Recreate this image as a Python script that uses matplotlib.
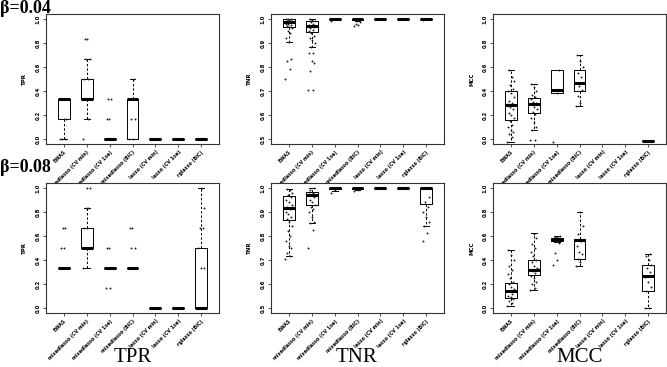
import numpy as np
import matplotlib
matplotlib.use("Agg")
import matplotlib.pyplot as plt

methods = ["EWAS", "mixedlasso (CV min)", "mixedlasso (CV 1se)", "mixedlasso (BIC)",
           "lasso (CV min)", "lasso (CV 1se)", "rglasso (BIC)"]

# box stats per method: (whisker low, q1, median, q3, whisker high); None = not available
tpr04_box = [(0, 0.167, 0.333, 0.333, 0.333), (0.167, 0.333, 0.333, 0.5, 0.667), (0, 0, 0, 0, 0),
             (0, 0, 0.333, 0.333, 0.5), (0, 0, 0, 0, 0), (0, 0, 0, 0, 0), (0, 0, 0, 0, 0)]
tnr04_box = [(0.905, 0.965, 0.986, 1.0, 1.0), (0.881, 0.944, 0.969, 0.993, 1.0), (0.998, 1, 1, 1, 1),
             (0.99, 0.995, 1.0, 1.0, 1.0), (1, 1, 1, 1, 1), (1, 1, 1, 1, 1), (0.998, 1, 1, 1, 1)]
mcc04_box = [(-0.02, 0.16, 0.286, 0.403, 0.574), (0.076, 0.221, 0.294, 0.342, 0.46),
             (0.384, 0.384, 0.406, 0.571, 0.571), (0.272, 0.403, 0.468, 0.571, 0.697),
             None, None, (-0.014, -0.014, -0.014, -0.014, -0.014)]
tpr08_box = [(0.333, 0.333, 0.333, 0.333, 0.333), (0.333, 0.5, 0.5, 0.667, 0.833),
             (0.333, 0.333, 0.333, 0.333, 0.333), (0.333, 0.333, 0.333, 0.333, 0.333),
             (0, 0, 0, 0, 0), (0, 0, 0, 0, 0), (0, 0, 0, 0.5, 1.0)]
tnr08_box = [(0.716, 0.865, 0.916, 0.965, 0.995), (0.853, 0.93, 0.972, 0.982, 1.0),
             (0.985, 0.997, 1, 1, 1), (0.99, 0.995, 1, 1, 1), (1, 1, 1, 1, 1), (1, 1, 1, 1, 1),
             (0.842, 0.934, 1.0, 1.0, 1.0)]
mcc08_box = [(0.022, 0.087, 0.14, 0.212, 0.483), (0.154, 0.274, 0.321, 0.40, 0.623),
             (0.55, 0.559, 0.573, 0.581, 0.60), (0.35, 0.405, 0.565, 0.573, 0.80),
             None, None, (0.0, 0.142, 0.265, 0.358, 0.45)]

# individual replicate values overlaid on the boxes
tpr04_pts = [[0, 0, 0, 0.167, 0.167, 0.333, 0.333, 0.333],
             [0, 0.167, 0.333, 0.333, 0.333, 0.5, 0.5, 0.667, 0.667, 0.833, 0.833],
             [0, 0, 0, 0, 0.167, 0.167, 0.333, 0.333],
             [0, 0, 0.167, 0.167, 0.333, 0.333, 0.5],
             [0], [0], [0]]
tnr04_pts = [[0.75, 0.79, 0.825, 0.832, 0.905, 0.92, 0.94, 0.95, 0.96, 0.965, 0.97, 0.975, 0.98,
              0.98, 0.985, 0.99, 0.99, 0.995, 1.0, 1.0, 1.0],
             [0.706, 0.706, 0.783, 0.818, 0.825, 0.86, 0.86, 0.881, 0.90, 0.91, 0.92, 0.93, 0.94,
              0.95, 0.955, 0.96, 0.965, 0.97, 0.975, 0.98, 0.985, 0.99, 0.995, 1.0],
             [0.993, 1.0, 1.0],
             [0.97, 0.975, 0.98, 0.985, 0.99, 0.995, 1.0],
             [1.0], [1.0], [0.997, 1.0]]
mcc04_pts = [[-0.02, 0.02, 0.04, 0.06, 0.08, 0.10, 0.12, 0.15, 0.18, 0.20, 0.22, 0.25, 0.27, 0.29,
              0.30, 0.32, 0.35, 0.38, 0.40, 0.42, 0.45, 0.48, 0.52, 0.574],
             [-0.01, -0.01, 0.076, 0.10, 0.14, 0.18, 0.21, 0.23, 0.25, 0.27, 0.29, 0.30, 0.31, 0.33,
              0.35, 0.37, 0.40, 0.43, 0.46],
             [-0.02, 0.384, 0.406, 0.571],
             [0.272, 0.30, 0.36, 0.41, 0.44, 0.47, 0.52, 0.55, 0.60, 0.65, 0.697],
             [], [], [-0.014]]
tpr08_pts = [[0.333, 0.333, 0.333, 0.333, 0.5, 0.5, 0.667, 0.667],
             [0.333, 0.5, 0.5, 0.5, 0.667, 0.667, 0.833, 0.833, 1.0, 1.0],
             [0.167, 0.167, 0.333, 0.333, 0.5, 0.5],
             [0.333, 0.333, 0.5, 0.5, 0.667, 0.667],
             [0], [0],
             [0, 0, 0, 0.333, 0.333, 0.5, 0.667, 0.667, 0.833, 1.0]]
tnr08_pts = [[0.703, 0.716, 0.73, 0.75, 0.76, 0.78, 0.80, 0.82, 0.84, 0.86, 0.87, 0.88, 0.89, 0.90,
              0.91, 0.92, 0.93, 0.94, 0.95, 0.96, 0.97, 0.98, 0.99, 0.995],
             [0.749, 0.823, 0.853, 0.86, 0.88, 0.90, 0.91, 0.92, 0.93, 0.94, 0.95, 0.96, 0.97,
              0.975, 0.98, 0.99, 1.0],
             [0.98, 0.99, 1.0],
             [0.985, 0.99, 0.995, 1.0],
             [1.0], [1.0],
             [0.779, 0.811, 0.842, 0.86, 0.88, 0.90, 0.92, 0.94, 0.96, 1.0]]
mcc08_pts = [[0.022, 0.04, 0.06, 0.08, 0.09, 0.10, 0.12, 0.14, 0.16, 0.18, 0.20, 0.22, 0.25, 0.28,
              0.32, 0.35, 0.40, 0.44, 0.48],
             [0.154, 0.17, 0.20, 0.22, 0.25, 0.27, 0.29, 0.31, 0.33, 0.35, 0.38, 0.40, 0.43, 0.47,
              0.50, 0.53, 0.58, 0.62],
             [0.36, 0.40, 0.46, 0.54, 0.56, 0.57, 0.58, 0.59, 0.60],
             [0.35, 0.38, 0.41, 0.45, 0.47, 0.52, 0.56, 0.62, 0.68, 0.80],
             [], [],
             [0.0, 0.0, 0.14, 0.18, 0.22, 0.26, 0.30, 0.33, 0.36, 0.40, 0.43, 0.45]]


def draw_panel(ax, boxes, pts, ylabel, ylim, yticks):
    stats, pos = [], []
    for i, b in enumerate(boxes):
        if b is None:
            continue
        wlo, q1, med, q3, whi = b
        stats.append(dict(whislo=wlo, q1=q1, med=med, q3=q3, whishi=whi, fliers=[]))
        pos.append(i + 1)
    ax.bxp(stats, positions=pos, widths=0.52, capwidths=0.26, showfliers=False,
           boxprops=dict(color="black", lw=0.7),
           medianprops=dict(color="black", lw=2.2, solid_capstyle="butt"),
           whiskerprops=dict(color="black", lw=0.7, linestyle=(0, (2.5, 2))),
           capprops=dict(color="black", lw=0.7))
    for i, vals in enumerate(pts):
        n = len(vals)
        # spread replicates sideways so they don't sit on top of each other
        off = ((np.arange(n) * 0.618) % 1 - 0.5) * 0.3
        ax.plot(i + 1 + off, vals, "o", color="#222222", ms=1.4, mew=0)

    ax.set_xlim(0.22, 7.78)
    ax.set_ylim(*ylim)
    ax.set_yticks(yticks)
    ax.set_yticklabels(["%.1f" % t for t in yticks], rotation=90, va="center",
                       fontsize=3.8, fontweight="bold")
    ax.set_xticks(range(1, 8))
    ax.set_xticklabels(methods, rotation=45, ha="right", rotation_mode="anchor",
                       fontsize=3.4, fontweight="bold")
    ax.tick_params(length=2.5, width=0.6, pad=1.5, color="#333333")
    ax.set_ylabel(ylabel, fontsize=4, fontweight="bold", labelpad=6)
    for s in ax.spines.values():
        s.set_linewidth(0.8)
        s.set_color("#333333")


fig = plt.figure(figsize=(6.67, 3.67), dpi=100)

lefts = [46 / 667, 271 / 667, 493 / 667]
bottoms = [1 - 144 / 367, 1 - 313 / 367]
w, h = 173 / 667, 130 / 367

rows = [(tpr04_box, tpr04_pts, tnr04_box, tnr04_pts, mcc04_box, mcc04_pts),
        (tpr08_box, tpr08_pts, tnr08_box, tnr08_pts, mcc08_box, mcc08_pts)]
unit_ticks = [0.0, 0.2, 0.4, 0.6, 0.8, 1.0]
tnr_ticks = [0.5, 0.6, 0.7, 0.8, 0.9, 1.0]

for r, (tb, tp, nb, npts, mb, mp) in enumerate(rows):
    ax = fig.add_axes([lefts[0], bottoms[r], w, h])
    draw_panel(ax, tb, tp, "TPR", (-0.04, 1.04), unit_ticks)
    ax = fig.add_axes([lefts[1], bottoms[r], w, h])
    draw_panel(ax, nb, npts, "TNR", (0.48, 1.02), tnr_ticks)
    ax = fig.add_axes([lefts[2], bottoms[r], w, h])
    draw_panel(ax, mb, mp, "MCC", (-0.04, 1.04), unit_ticks)

fig.text(0.0, 1.0, "β=0.04", ha="left", va="top", fontsize=13, fontweight="bold",
         family="Liberation Serif")
fig.text(0.0, 1 - 159 / 367, "β=0.08", ha="left", va="top", fontsize=13, fontweight="bold",
         family="Liberation Serif")
for x, lab in zip([133, 357, 580], ["TPR", "TNR", "MCC"]):
    fig.text(x / 667, 1 - 357 / 367, lab, ha="center", va="center", fontsize=15,
             family="Liberation Serif")

fig.savefig("out.png", dpi=100)
